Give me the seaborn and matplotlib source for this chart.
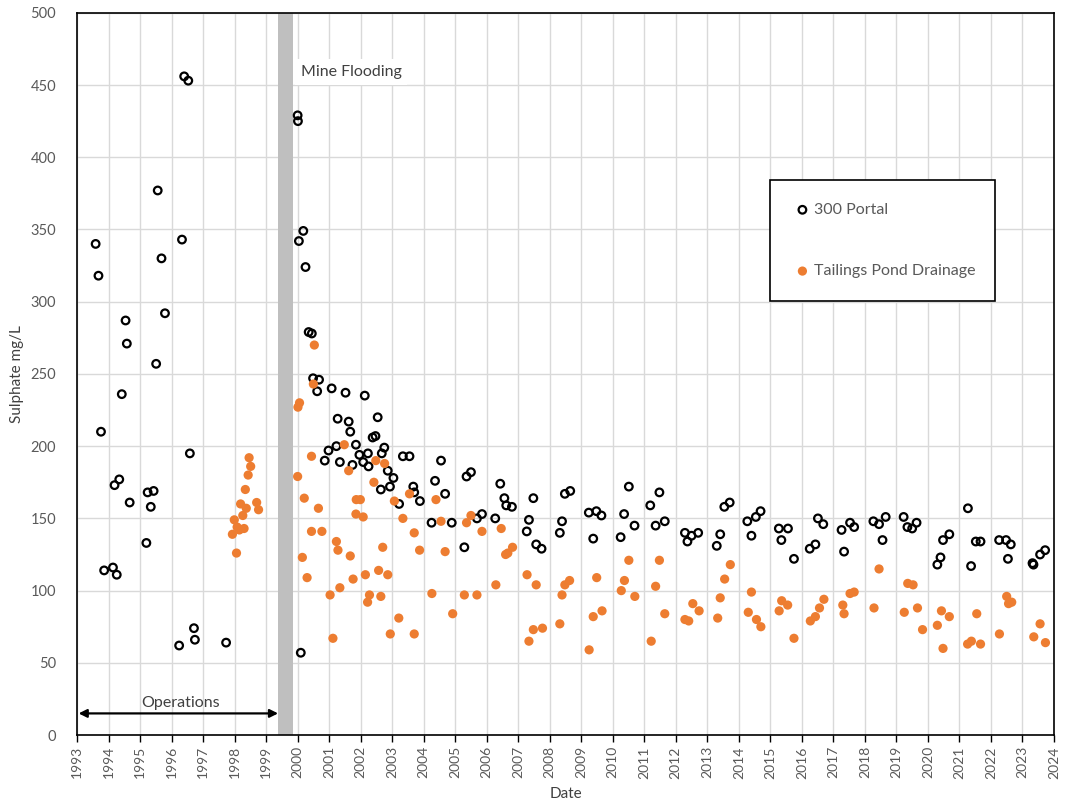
import numpy as np
import pandas as pd
import matplotlib
matplotlib.use("Agg")
import matplotlib.pyplot as plt
import seaborn as sns

# ---------------- data (decimal year, sulphate mg/L) ----------------
portal_year = [
    1993.59, 1993.68, 1993.76, 1993.86, 1994.14, 1994.19, 1994.26, 1994.34, 1994.42,
    1994.54, 1994.58, 1994.67, 1995.20, 1995.24, 1995.34, 1995.43, 1995.51, 1995.56,
    1995.68, 1995.79, 1996.24, 1996.33, 1996.40, 1996.53, 1996.58, 1996.71, 1996.74,
    1997.73,
    2000.00, 2000.01, 2000.04, 2000.10, 2000.18, 2000.25, 2000.35, 2000.45, 2000.49,
    2000.62, 2000.68, 2000.86, 2000.98, 2001.08, 2001.23, 2001.27, 2001.34, 2001.52,
    2001.62, 2001.67, 2001.74, 2001.85, 2001.96, 2002.08, 2002.13, 2002.23, 2002.25,
    2002.38, 2002.47, 2002.54, 2002.64, 2002.67, 2002.75, 2002.86, 2002.93, 2003.04,
    2003.22, 2003.34, 2003.55, 2003.67, 2003.70, 2003.88, 2004.25, 2004.36, 2004.55,
    2004.68, 2004.89, 2005.29, 2005.36, 2005.50, 2005.69, 2005.85, 2006.27, 2006.43,
    2006.56, 2006.62, 2006.80, 2007.27, 2007.34, 2007.48, 2007.57, 2007.74, 2008.32,
    2008.39, 2008.48, 2008.65, 2009.24, 2009.38, 2009.48, 2009.64, 2010.25, 2010.36,
    2010.51, 2010.69, 2011.19, 2011.36, 2011.48, 2011.65, 2012.29, 2012.37, 2012.50,
    2012.71, 2013.30, 2013.41, 2013.54, 2013.71, 2014.27, 2014.40, 2014.54, 2014.69,
    2015.27, 2015.35, 2015.56, 2015.75, 2016.25, 2016.43, 2016.51, 2016.68, 2017.26,
    2017.34, 2017.53, 2017.66, 2018.27, 2018.45, 2018.56, 2018.66, 2019.23, 2019.35,
    2019.50, 2019.64, 2020.30, 2020.40, 2020.48, 2020.68, 2021.27, 2021.37, 2021.52,
    2021.67, 2022.26, 2022.48, 2022.54, 2022.63, 2023.32, 2023.35, 2023.56, 2023.72,
]
portal_value = [
    340, 318, 210, 114, 116, 173, 111, 177, 236,
    287, 271, 161, 133, 168, 158, 169, 257, 377,
    330, 292, 62, 343, 456, 453, 195, 74, 66,
    64,
    429, 425, 342, 57, 349, 324, 279, 278, 247,
    238, 246, 190, 197, 240, 200, 219, 189, 237,
    217, 210, 187, 201, 194, 189, 235, 195, 186,
    206, 207, 220, 170, 195, 199, 183, 172, 178,
    160, 193, 193, 172, 168, 162, 147, 176, 190,
    167, 147, 130, 179, 182, 150, 153, 150, 174,
    164, 159, 158, 141, 149, 164, 132, 129, 140,
    148, 167, 169, 154, 136, 155, 152, 137, 153,
    172, 145, 159, 145, 168, 148, 140, 134, 138,
    140, 131, 139, 158, 161, 148, 138, 151, 155,
    143, 135, 143, 122, 129, 132, 150, 146, 142,
    127, 147, 144, 148, 146, 135, 151, 151, 144,
    143, 147, 118, 123, 135, 139, 157, 117, 134,
    134, 135, 135, 122, 132, 119, 118, 125, 128,
]

tailings_year = [
    1997.93, 1997.99, 1998.06, 1998.08, 1998.15, 1998.19, 1998.26, 1998.30, 1998.34,
    1998.37, 1998.43, 1998.46, 1998.51, 1998.70, 1998.76,
    2000.00, 2000.01, 2000.06, 2000.15, 2000.21, 2000.30, 2000.44, 2000.44, 2000.50,
    2000.53, 2000.66, 2000.77, 2001.03, 2001.12, 2001.23, 2001.28, 2001.34, 2001.48,
    2001.62, 2001.67, 2001.76, 2001.85, 2001.86, 2001.99, 2002.08, 2002.15, 2002.22,
    2002.28, 2002.42, 2002.48, 2002.57, 2002.64, 2002.70, 2002.76, 2002.86, 2002.94,
    2003.07, 2003.21, 2003.34, 2003.55, 2003.70, 2003.70, 2003.87, 2004.26, 2004.39,
    2004.55, 2004.68, 2004.92, 2005.29, 2005.36, 2005.50, 2005.69, 2005.85, 2006.29,
    2006.46, 2006.60, 2006.67, 2006.82, 2007.28, 2007.34, 2007.48, 2007.57, 2007.77,
    2008.32, 2008.39, 2008.48, 2008.63, 2009.25, 2009.38, 2009.49, 2009.66, 2010.27,
    2010.37, 2010.51, 2010.70, 2011.22, 2011.36, 2011.48, 2011.65, 2012.29, 2012.41,
    2012.54, 2012.74, 2013.33, 2013.41, 2013.55, 2013.73, 2014.30, 2014.40, 2014.56,
    2014.70, 2015.28, 2015.36, 2015.55, 2015.75, 2016.27, 2016.43, 2016.56, 2016.70,
    2017.30, 2017.34, 2017.53, 2017.66, 2018.29, 2018.45, 2019.25, 2019.36, 2019.53,
    2019.67, 2019.83, 2020.30, 2020.43, 2020.48, 2020.68, 2021.26, 2021.38, 2021.55,
    2021.67, 2022.27, 2022.50, 2022.56, 2022.66, 2023.36, 2023.56, 2023.73,
]
tailings_value = [
    139, 149, 126, 144, 142, 160, 152, 143, 170,
    157, 180, 192, 186, 161, 156,
    179, 227, 230, 123, 164, 109, 193, 141, 243,
    270, 157, 141, 97, 67, 134, 128, 102, 201,
    183, 124, 108, 153, 163, 163, 151, 111, 92,
    97, 175, 190, 114, 96, 130, 188, 111, 70,
    162, 81, 150, 167, 140, 70, 128, 98, 163,
    148, 127, 84, 97, 147, 152, 97, 141, 104,
    143, 125, 126, 130, 111, 65, 73, 104, 74,
    77, 97, 104, 107, 59, 82, 109, 86, 100,
    107, 121, 96, 65, 103, 121, 84, 80, 79,
    91, 86, 81, 95, 108, 118, 85, 99, 80,
    75, 86, 93, 90, 67, 79, 82, 88, 94,
    90, 84, 98, 99, 88, 115, 85, 105, 104,
    88, 73, 76, 86, 60, 82, 63, 65, 84,
    63, 70, 96, 91, 92, 68, 77, 64,
]

series_names = ["300 Portal", "Tailings Pond Drainage"]
year_ticks = list(range(1993, 2025))
value_ticks = list(range(0, 501, 50))
flood_span = (1999.38, 1999.86)
operations_span = (1993.0, 1999.38)

# ---------------- figure ----------------
sns.set_theme(style="white")
plt.rcParams["font.family"] = ["Lato", "DejaVu Sans"]

fig = plt.figure(figsize=(10.70, 7.99), dpi=100)
ax = fig.add_axes([0.072, 0.080, 0.913, 0.904])

grid_c = "#d9d9d9"
text_c = "#595959"

df_p = pd.DataFrame({"Date": portal_year, "Sulphate mg/L": portal_value})
df_t = pd.DataFrame({"Date": tailings_year, "Sulphate mg/L": tailings_value})

sns.scatterplot(data=df_p, x="Date", y="Sulphate mg/L", ax=ax, marker="o",
                facecolor="none", edgecolor="black", linewidth=1.6, s=30,
                label=series_names[0], zorder=3)
sns.scatterplot(data=df_t, x="Date", y="Sulphate mg/L", ax=ax, marker="o",
                color="#ED7D31", edgecolor="none", linewidth=0, s=44,
                label=series_names[1], zorder=4)

ax.set_xlim(year_ticks[0], year_ticks[-1])
ax.set_ylim(value_ticks[0], value_ticks[-1])
ax.set_xticks(year_ticks)
ax.set_xticklabels([str(y) for y in year_ticks], rotation=90)
ax.set_yticks(value_ticks)

ax.grid(True, color=grid_c, linewidth=1.0, zorder=0)
ax.set_axisbelow(True)

for side in ["left", "bottom", "top", "right"]:
    ax.spines[side].set_visible(True)
    ax.spines[side].set_color("black")
    ax.spines[side].set_linewidth(1.2)

ax.tick_params(axis="x", which="major", bottom=True, length=5, width=1,
               color="black", labelsize=10, labelcolor=text_c, pad=3)
ax.tick_params(axis="y", which="major", left=False, labelsize=10.5,
               labelcolor=text_c, pad=9)

ax.set_xlabel("Date", fontsize=11, color="#404040", labelpad=6)
ax.set_ylabel("Sulphate mg/L", fontsize=11, color="#404040")
ax.yaxis.set_label_coords(-0.054, 0.5)

# mine flooding band
ax.axvspan(flood_span[0], flood_span[1], color="#bfbfbf", lw=0, zorder=2)
ax.text(2000.1, 459, "Mine Flooding", fontsize=11.5, color="#404040",
        va="center", ha="left", zorder=5,
        bbox=dict(facecolor="white", edgecolor="none", pad=4))

# operations arrow
ax.annotate("", xy=(operations_span[1], 15), xytext=(operations_span[0] + 0.05, 15),
            arrowprops=dict(arrowstyle="<|-|>", color="black", lw=1.6,
                            mutation_scale=12, shrinkA=0, shrinkB=0), zorder=5)
ax.text(1996.3, 22, "Operations", fontsize=11.5, color="#404040",
        ha="center", va="center", zorder=5)

leg = ax.legend(loc="upper left", bbox_to_anchor=(0.709, 0.769, 0.231, 0.0),
                mode="expand", frameon=True, fancybox=False, fontsize=11.5,
                labelspacing=2.95, borderpad=1.45, handletextpad=0.1,
                handlelength=1.2, borderaxespad=0, markerscale=1.0)
leg.get_frame().set_edgecolor("black")
leg.get_frame().set_linewidth(1.2)
leg.get_frame().set_alpha(1)
for t in leg.get_texts():
    t.set_color(text_c)

fig.savefig("out.png", dpi=100)
